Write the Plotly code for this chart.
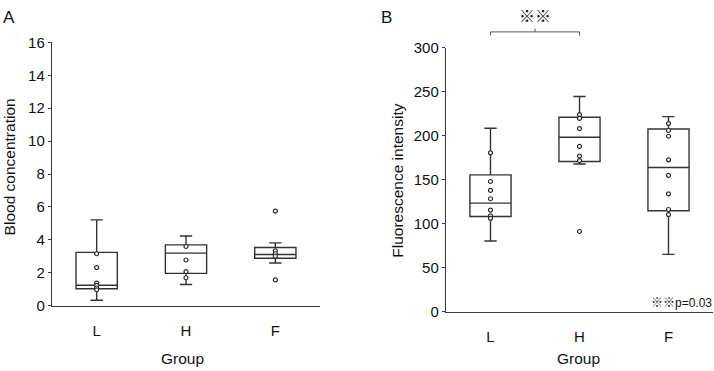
import plotly.graph_objects as go

# ---------------- data ----------------
groups = ["L", "H", "F"]

# Panel A: Blood concentration (box statistics)
a_lower = [0.33, 1.29, 2.60]
a_q1 = [1.03, 1.97, 2.89]
a_median = [1.25, 3.20, 3.11]
a_q3 = [3.24, 3.70, 3.54]
a_upper = [5.22, 4.24, 3.82]
# Panel A: individual points
a_L = [3.16, 2.32, 1.38, 1.24, 1.08, 0.97]
a_H = [3.60, 2.78, 2.07, 1.70]
a_F = [5.75, 3.34, 3.16, 3.01, 1.57]

# Panel B: Fluorescence intensity (box statistics)
b_lower = [80.6, 168.1, 65.4]
b_q1 = [108.5, 170.9, 115.0]
b_median = [123.6, 198.5, 164.1]
b_q3 = [155.7, 221.2, 207.8]
b_upper = [208.6, 244.7, 221.9]
# Panel B: individual points
b_L = [180.7, 148.2, 138.0, 128.6, 115.6, 109.1, 106.3]
b_H = [224.1, 219.8, 208.2, 188.0, 177.1, 172.0, 91.4]
b_F = [214.0, 206.1, 199.6, 172.8, 155.1, 134.1, 116.4, 110.6]

a_ticks = [0, 2, 4, 6, 8, 10, 12, 14, 16]
b_ticks = [0, 50, 100, 150, 200, 250, 300]

# ---------------- style ----------------
FONT = "Arial, Liberation Sans, Noto Sans CJK JP, sans-serif"
LINE = "#333333"
AX = "#3a3a3a"
TXT = "#111111"
W, H = 714, 371

fig = go.Figure()

def add_panel(xa, ya, lower, q1, med, q3, upper, pts):
    fig.add_trace(go.Box(
        x=groups, lowerfence=lower, q1=q1, median=med, q3=q3, upperfence=upper,
        boxpoints=False, fillcolor="rgba(255,255,255,0)",
        line=dict(color=LINE, width=1.4), whiskerwidth=0.3,
        xaxis=xa, yaxis=ya, showlegend=False, hoverinfo="skip"))
    for g, vals in zip(groups, pts):
        fig.add_trace(go.Scatter(
            x=[g] * len(vals), y=vals, mode="markers",
            marker=dict(symbol="circle", size=4, color="white",
                        line=dict(color="#2a2a2a", width=1.2)),
            xaxis=xa, yaxis=ya, showlegend=False, hoverinfo="skip"))

add_panel("x", "y", a_lower, a_q1, a_median, a_q3, a_upper, [a_L, a_H, a_F])
add_panel("x2", "y2", b_lower, b_q1, b_median, b_q3, b_upper, [b_L, b_H, b_F])

def px_x(p):
    return p / W

def px_y(p):
    return 1 - p / H

xcommon = dict(type="category", categoryorder="array", categoryarray=groups,
               range=[-0.5, 2.5], showline=True, linecolor=AX, linewidth=1.4,
               ticks="outside", ticklen=11, tickcolor="rgba(0,0,0,0)",
               tickfont=dict(family=FONT, size=15, color=TXT),
               showgrid=False, zeroline=False, fixedrange=True)
ycommon = dict(showline=True, linecolor=AX, linewidth=1.4, ticks="outside",
               ticklen=3, tickcolor=AX, tickwidth=1.2,
               tickfont=dict(family=FONT, size=15, color=TXT),
               showgrid=False, zeroline=False, fixedrange=True)

fig.update_layout(
    width=W, height=H, margin=dict(l=0, r=0, t=0, b=0),
    paper_bgcolor="white", plot_bgcolor="white",
    boxgap=0.34, boxmode="overlay",
    xaxis=dict(domain=[px_x(52), px_x(320)], anchor="y", **xcommon),
    yaxis=dict(domain=[px_y(311), px_y(35)], range=[0, 16], tickvals=a_ticks,
               anchor="x", **ycommon),
    xaxis2=dict(domain=[px_x(446), px_x(713)], anchor="y2", **xcommon),
    yaxis2=dict(domain=[px_y(317.5), px_y(40.7)], range=[0, 300], tickvals=b_ticks,
                anchor="x2", **ycommon),
)

ann = []
def text(x, y, s, size, xanchor="center", yanchor="middle", angle=0, xref="paper", yshift=0):
    ann.append(dict(x=x, y=y, xref=xref, yref="paper", text=s, showarrow=False,
                    xanchor=xanchor, yanchor=yanchor, textangle=angle, yshift=yshift,
                    font=dict(family=FONT, size=size, color=TXT)))

text(px_x(9), px_y(9), "A", 17)
text(px_x(386.5), px_y(9), "B", 17)
text(px_x(9), px_y(166), "Blood concentration", 15.5, angle=-90)
text(px_x(398), px_y(180), "Fluorescence intensity", 15.5, angle=-90)
text(px_x(183), 0, "Group", 15.5, yanchor="bottom", yshift=-6)
text(px_x(578), 0, "Group", 15.5, yanchor="bottom", yshift=-6)
text(0.5, px_y(8), "※※", 16, xref="x2")
text(px_x(714), px_y(308), "※※p=0.03", 12, xanchor="right")
fig.update_layout(annotations=ann)

# significance bracket between L and H in panel B
yb = px_y(24)
ye = px_y(27.5)
fig.add_shape(type="path", xref="x2", yref="paper",
              path=f"M 0,{ye} L 0,{yb} L 1,{yb} L 1,{ye}",
              line=dict(color="#555", width=1))
fig.add_shape(type="line", xref="x2", yref="paper", x0=0.5, x1=0.5,
              y0=yb, y1=px_y(20.5), line=dict(color="#555", width=1))

fig.write_html("out.html")
